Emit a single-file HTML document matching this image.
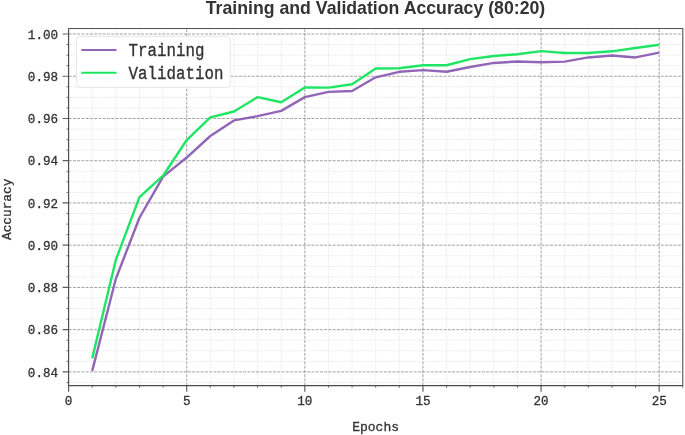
<!DOCTYPE html>
<html><head><meta charset="utf-8"><title>Training and Validation Accuracy (80:20)</title>
<style>
html,body{margin:0;padding:0;background:#fff;}
body{width:685px;height:435px;overflow:hidden;}
svg{display:block;}
.mono{font-family:"Liberation Mono","DejaVu Sans Mono",monospace;fill:#333;stroke:#333;stroke-width:0.3px;}
.title{font-family:"Liberation Sans",Arial,sans-serif;font-weight:bold;fill:#333;}
</style></head><body>
<svg width="685" height="435" viewBox="0 0 685 435">
<rect width="685" height="435" fill="#fff"/>
<path d="M92.22 28.57V385.65M115.85 28.57V385.65M139.47 28.57V385.65M163.09 28.57V385.65M210.34 28.57V385.65M233.96 28.57V385.65M257.58 28.57V385.65M281.21 28.57V385.65M328.45 28.57V385.65M352.08 28.57V385.65M375.70 28.57V385.65M399.32 28.57V385.65M446.57 28.57V385.65M470.19 28.57V385.65M493.82 28.57V385.65M517.44 28.57V385.65M564.68 28.57V385.65M588.31 28.57V385.65M611.93 28.57V385.65M635.55 28.57V385.65M682.80 28.57V385.65M68.6 382.48H682.8M68.6 361.36H682.8M68.6 350.80H682.8M68.6 340.24H682.8M68.6 319.12H682.8M68.6 308.56H682.8M68.6 298.00H682.8M68.6 276.88H682.8M68.6 266.32H682.8M68.6 255.76H682.8M68.6 234.64H682.8M68.6 224.08H682.8M68.6 213.52H682.8M68.6 192.40H682.8M68.6 181.84H682.8M68.6 171.28H682.8M68.6 150.16H682.8M68.6 139.60H682.8M68.6 129.04H682.8M68.6 107.92H682.8M68.6 97.36H682.8M68.6 86.80H682.8M68.6 65.68H682.8M68.6 55.12H682.8M68.6 44.56H682.8" stroke="#dadada" stroke-width="0.8" stroke-dasharray="0.9 1.15" fill="none"/>
<path d="M186.72 385.65V28.57M304.83 385.65V28.57M422.95 385.65V28.57M541.06 385.65V28.57M659.18 385.65V28.57M68.6 371.92H682.8M68.6 329.68H682.8M68.6 287.44H682.8M68.6 245.20H682.8M68.6 202.96H682.8M68.6 160.72H682.8M68.6 118.48H682.8M68.6 76.24H682.8M68.6 34.00H682.8" stroke="#929292" stroke-width="0.85" stroke-dasharray="2.97 1.29" fill="none"/>
<polyline points="92.22,370.86 115.85,278.78 139.47,217.74 163.09,176.56 186.72,157.55 210.34,136.01 233.96,120.38 257.58,116.16 281.21,110.88 304.83,97.15 328.45,91.87 352.08,91.02 375.70,77.30 399.32,71.80 422.95,70.12 446.57,71.80 470.19,66.95 493.82,62.93 517.44,61.46 541.06,62.30 564.68,61.67 588.31,57.44 611.93,55.54 635.55,57.44 659.18,52.59" fill="none" stroke="#9166b6" stroke-width="2.4" stroke-linejoin="round" stroke-linecap="butt"/>
<polyline points="92.22,358.40 115.85,259.77 139.47,197.05 163.09,175.72 186.72,140.02 210.34,117.42 233.96,111.51 257.58,97.15 281.21,102.22 304.83,87.43 328.45,87.64 352.08,84.27 375.70,68.43 399.32,68.21 422.95,65.26 446.57,65.26 470.19,59.13 493.82,55.96 517.44,54.28 541.06,51.11 564.68,53.01 588.31,53.01 611.93,51.32 635.55,47.94 659.18,44.77" fill="none" stroke="#1ee664" stroke-width="2.4" stroke-linejoin="round" stroke-linecap="butt"/>
<path d="M68.60 385.65v6M186.72 385.65v6M304.83 385.65v6M422.95 385.65v6M541.06 385.65v6M659.18 385.65v6M68.6 371.92h-6M68.6 329.68h-6M68.6 287.44h-6M68.6 245.20h-6M68.6 202.96h-6M68.6 160.72h-6M68.6 118.48h-6M68.6 76.24h-6M68.6 34.00h-6" stroke="#606060" stroke-width="1.2" fill="none"/>
<path d="M92.22 385.65v2.1M115.85 385.65v2.1M139.47 385.65v2.1M163.09 385.65v2.1M210.34 385.65v2.1M233.96 385.65v2.1M257.58 385.65v2.1M281.21 385.65v2.1M328.45 385.65v2.1M352.08 385.65v2.1M375.70 385.65v2.1M399.32 385.65v2.1M446.57 385.65v2.1M470.19 385.65v2.1M493.82 385.65v2.1M517.44 385.65v2.1M564.68 385.65v2.1M588.31 385.65v2.1M611.93 385.65v2.1M635.55 385.65v2.1M682.80 385.65v2.1M68.6 382.48h-2.1M68.6 361.36h-2.1M68.6 350.80h-2.1M68.6 340.24h-2.1M68.6 319.12h-2.1M68.6 308.56h-2.1M68.6 298.00h-2.1M68.6 276.88h-2.1M68.6 266.32h-2.1M68.6 255.76h-2.1M68.6 234.64h-2.1M68.6 224.08h-2.1M68.6 213.52h-2.1M68.6 192.40h-2.1M68.6 181.84h-2.1M68.6 171.28h-2.1M68.6 150.16h-2.1M68.6 139.60h-2.1M68.6 129.04h-2.1M68.6 107.92h-2.1M68.6 97.36h-2.1M68.6 86.80h-2.1M68.6 65.68h-2.1M68.6 55.12h-2.1M68.6 44.56h-2.1" stroke="#606060" stroke-width="0.9" fill="none"/>
<path d="M68.6 28.57H682.8V385.65" stroke="#505050" stroke-width="1.05" fill="none"/>
<path d="M68.6 28.57V385.65H682.8" stroke="#4a4a4a" stroke-width="1.15" fill="none"/>
<text class="mono" transform="translate(68.60 405.1) scale(1 1.04)" font-size="12.6" text-anchor="middle">0</text>
<text class="mono" transform="translate(186.72 405.1) scale(1 1.04)" font-size="12.6" text-anchor="middle">5</text>
<text class="mono" transform="translate(304.83 405.1) scale(1 1.04)" font-size="12.6" text-anchor="middle">10</text>
<text class="mono" transform="translate(422.95 405.1) scale(1 1.04)" font-size="12.6" text-anchor="middle">15</text>
<text class="mono" transform="translate(541.06 405.1) scale(1 1.04)" font-size="12.6" text-anchor="middle">20</text>
<text class="mono" transform="translate(659.18 405.1) scale(1 1.04)" font-size="12.6" text-anchor="middle">25</text>
<text class="mono" transform="translate(58.1 376.52) scale(1 1.04)" font-size="12.6" text-anchor="end">0.84</text>
<text class="mono" transform="translate(58.1 334.28) scale(1 1.04)" font-size="12.6" text-anchor="end">0.86</text>
<text class="mono" transform="translate(58.1 292.04) scale(1 1.04)" font-size="12.6" text-anchor="end">0.88</text>
<text class="mono" transform="translate(58.1 249.80) scale(1 1.04)" font-size="12.6" text-anchor="end">0.90</text>
<text class="mono" transform="translate(58.1 207.56) scale(1 1.04)" font-size="12.6" text-anchor="end">0.92</text>
<text class="mono" transform="translate(58.1 165.32) scale(1 1.04)" font-size="12.6" text-anchor="end">0.94</text>
<text class="mono" transform="translate(58.1 123.08) scale(1 1.04)" font-size="12.6" text-anchor="end">0.96</text>
<text class="mono" transform="translate(58.1 80.84) scale(1 1.04)" font-size="12.6" text-anchor="end">0.98</text>
<text class="mono" transform="translate(58.1 38.60) scale(1 1.04)" font-size="12.6" text-anchor="end">1.00</text>
<text class="mono" transform="translate(375.6 431.4) scale(1 1.02)" font-size="13" text-anchor="middle">Epochs</text>
<text class="mono" transform="translate(10.8 209.3) rotate(-90) scale(1 1.02)" font-size="12.8" text-anchor="middle">Accuracy</text>
<text class="title" x="375.5" y="13.8" font-size="17.7" text-anchor="middle">Training and Validation Accuracy (80:20)</text>
<rect x="76.6" y="36.3" width="153.7" height="51" rx="3.5" ry="3.5" fill="#fff" fill-opacity="0.95" stroke="#e6e6e6" stroke-width="1"/>
<path d="M81.3 49.9H116.5" stroke="#9166b6" stroke-width="2.0"/>
<path d="M81.3 72.8H116.5" stroke="#1ee664" stroke-width="2.0"/>
<text class="mono" transform="translate(128.6 55.9) scale(1 1.12)" font-size="15.8">Training</text>
<text class="mono" transform="translate(128.6 79.0) scale(1 1.12)" font-size="15.8">Validation</text>
</svg></body></html>
